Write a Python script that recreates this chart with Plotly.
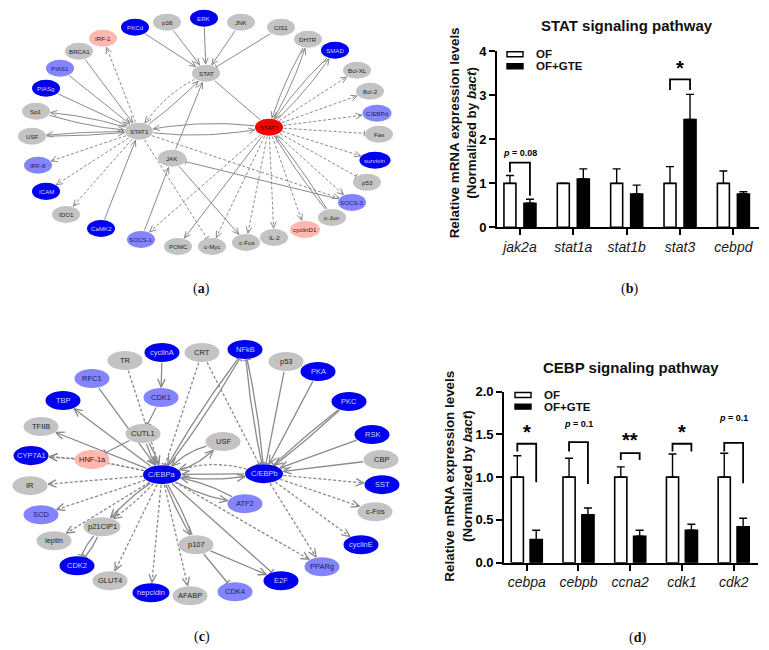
import math
import plotly.graph_objects as go

W, H = 769, 650
FONT = "Liberation Sans, Arial, sans-serif"

# ---------------- (a) STAT network ----------------
a_names = ['PKCd', 'p38', 'ERK', 'JNK', 'CIS1', 'DHTR', 'SMAD', 'Bcl-XL', 'Bcl-2', 'C/EBPd',
           'Fas', 'survivin', 'p53', 'SOCS-3', 'c-Jun', 'cyclinD1', 'IL-2', 'c-Fos', 'c-Myc', 'POMC',
           'SOCS-1', 'CaMK2', 'IDO1', 'ICAM', 'IRF-8', 'USF', 'Sp1', 'PIASg', 'PIAS1', 'BRCA1',
           'IRF-1', 'STAT', 'STAT1', 'STAT3', 'JAK']
a_x = [135, 167, 204, 241, 281, 308, 335, 357, 370, 377,
       379, 375, 367, 352, 332, 305, 274, 246, 212, 178,
       141, 101, 66, 46, 38, 32, 36, 46, 60, 79,
       103, 206, 139, 269, 172]
a_y = [28, 23, 19, 23, 28, 40, 51, 71, 92, 114,
       135, 161, 183, 203, 218, 230, 238, 243, 247, 247,
       240, 229, 215, 192, 166, 137, 112, 89, 69, 52,
       39, 74, 132, 128, 159]
a_kind = ['b', 'g', 'b', 'g', 'g', 'g', 'b', 'g', 'g', 'l',
          'g', 'b', 'g', 'l', 'g', 'p', 'g', 'g', 'g', 'g',
          'l', 'b', 'g', 'b', 'l', 'g', 'g', 'b', 'l', 'g',
          'p', 'g', 'g', 'r', 'g']
# (source, target, s=solid/d=dashed, a=arrow/t=inhibit/n=none, bend)
a_edges = [
    ('PKCd', 'STAT', 's', 'a', 0), ('p38', 'STAT', 's', 'a', 0), ('ERK', 'STAT', 's', 'a', 0),
    ('JNK', 'STAT', 's', 'a', 0), ('CIS1', 'STAT', 's', 't', 0), ('STAT', 'STAT3', 's', 'n', 0),
    ('STAT', 'STAT1', 'd', 'a', 0.12), ('STAT1', 'STAT', 's', 'a', 0.04), ('JAK', 'STAT', 's', 'a', 0),
    ('SOCS-1', 'JAK', 's', 'a', 0), ('JAK', 'c-Fos', 's', 'a', 0), ('SOCS-3', 'JAK', 's', 't', 0),
    ('STAT1', 'c-Myc', 'd', 't', 0), ('STAT1', 'SOCS-3', 'd', 'a', 0),
    ('STAT1', 'STAT3', 's', 'a', 0.07), ('STAT3', 'STAT1', 's', 'a', 0.07),
    ('Sp1', 'STAT1', 's', 'a', 0.05), ('STAT1', 'Sp1', 's', 'a', 0.05),
    ('USF', 'STAT1', 's', 'a', 0.02), ('STAT1', 'USF', 's', 'a', 0.02),
    ('BRCA1', 'STAT1', 's', 'a', 0), ('PIAS1', 'STAT1', 's', 'a', 0), ('PIASg', 'STAT1', 's', 'a', 0),
    ('STAT1', 'IRF-1', 'd', 'a', 0), ('STAT1', 'IRF-8', 'd', 'a', 0), ('STAT1', 'ICAM', 'd', 'a', 0),
    ('STAT1', 'IDO1', 'd', 'a', 0), ('CaMK2', 'STAT1', 's', 'a', 0),
    ('STAT3', 'DHTR', 's', 'a', 0.05), ('DHTR', 'STAT3', 's', 'a', 0.05),
    ('STAT3', 'SMAD', 's', 'a', 0.05), ('SMAD', 'STAT3', 's', 'a', 0.05),
    ('STAT3', 'Bcl-XL', 'd', 'a', 0), ('STAT3', 'Bcl-2', 'd', 'a', 0), ('STAT3', 'C/EBPd', 'd', 'a', 0),
    ('STAT3', 'Fas', 'd', 't', 0), ('STAT3', 'survivin', 'd', 'a', 0), ('STAT3', 'p53', 'd', 't', 0),
    ('STAT3', 'SOCS-3', 'd', 'a', 0), ('c-Jun', 'STAT3', 's', 'a', 0.03), ('STAT3', 'c-Jun', 's', 'n', 0.03),
    ('STAT3', 'cyclinD1', 'd', 'a', 0), ('STAT3', 'IL-2', 'd', 'a', 0), ('STAT3', 'c-Fos', 'd', 'a', 0),
    ('STAT3', 'c-Myc', 'd', 'a', 0), ('STAT3', 'POMC', 's', 'a', 0), ('STAT3', 'SOCS-1', 'd', 'a', 0),
]

# ---------------- (c) CEBP network ----------------
c_names = ['TR', 'cyclinA', 'CRT', 'NFkB', 'p53', 'PKA', 'PKC', 'RSK', 'CBP', 'SST',
           'c-Fos', 'cyclinE', 'PPARg', 'E2F', 'CDK4', 'AFABP', 'hepcidin', 'GLUT4', 'CDK2', 'leptin',
           'SCD', 'IR', 'CYP7A1', 'TFIIB', 'TBP', 'RFC1', 'CDK1', 'CUTL1', 'HNF-1a', 'USF',
           'C/EBPa', 'C/EBPb', 'ATF2', 'p21CIP1', 'p107']
c_x = [125, 162, 202, 245, 286, 318, 349, 372, 381, 382,
       375, 361, 322, 281, 235, 190, 151, 110, 77, 54,
       41, 30, 31, 41, 63, 92, 161, 143, 92, 223,
       162, 264, 245, 102, 196]
c_y = [361, 353, 353, 350, 362, 372, 402, 435, 460, 485,
       512, 545, 567, 581, 592, 596, 593, 581, 566, 541,
       515, 486, 456, 427, 401, 379, 398, 434, 460, 442,
       475, 474, 504, 527, 545]
c_kind = ['g', 'b', 'g', 'b', 'g', 'b', 'b', 'b', 'g', 'b',
          'g', 'b', 'l', 'b', 'l', 'g', 'b', 'g', 'b', 'g',
          'l', 'g', 'b', 'g', 'b', 'l', 'l', 'g', 'p', 'g',
          'b', 'b', 'l', 'g', 'g']
c_edges = [
    ('cyclinA', 'CDK1', 's', 'a', 0), ('CDK1', 'CUTL1', 's', 't', 0), ('TR', 'C/EBPa', 'd', 'a', 0),
    ('RFC1', 'C/EBPa', 's', 'a', 0), ('CUTL1', 'HNF-1a', 's', 't', 0),
    ('CUTL1', 'C/EBPa', 's', 'a', 0.06), ('CUTL1', 'C/EBPa', 's', 'a', -0.06),
    ('C/EBPa', 'TBP', 's', 'a', 0), ('C/EBPa', 'TFIIB', 's', 'a', 0),
    ('C/EBPa', 'CYP7A1', 'd', 'a', 0.04), ('HNF-1a', 'CYP7A1', 'd', 'a', 0), ('C/EBPa', 'HNF-1a', 'd', 'n', 0),
    ('C/EBPa', 'IR', 'd', 'a', 0), ('C/EBPa', 'SCD', 'd', 'a', 0),
    ('C/EBPa', 'p21CIP1', 's', 'a', 0.05), ('C/EBPa', 'p21CIP1', 'd', 'a', -0.05),
    ('C/EBPa', 'leptin', 'd', 'a', 0),
    ('p21CIP1', 'CDK2', 's', 't', 0.08), ('p21CIP1', 'CDK2', 's', 't', -0.08),
    ('C/EBPa', 'GLUT4', 'd', 'a', 0), ('C/EBPa', 'hepcidin', 'd', 'a', 0), ('C/EBPa', 'AFABP', 'd', 'a', 0),
    ('C/EBPa', 'p107', 's', 'a', 0.04), ('C/EBPa', 'p107', 's', 'n', -0.04),
    ('C/EBPa', 'E2F', 's', 't', 0), ('p107', 'CDK4', 's', 't', 0), ('p107', 'E2F', 's', 'a', 0),
    ('C/EBPa', 'PPARg', 'd', 'a', 0),
    ('C/EBPa', 'ATF2', 's', 'a', 0.08), ('ATF2', 'C/EBPa', 's', 'a', 0.08),
    ('C/EBPa', 'USF', 's', 'a', 0.12), ('USF', 'C/EBPa', 's', 'a', 0.12),
    ('C/EBPb', 'C/EBPa', 'd', 'a', 0.14), ('C/EBPb', 'C/EBPa', 's', 'a', 0.0), ('C/EBPa', 'C/EBPb', 's', 'a', 0.07),
    ('C/EBPa', 'NFkB', 's', 't', 0.03), ('NFkB', 'C/EBPa', 's', 'a', 0.03),
    ('C/EBPb', 'NFkB', 's', 't', 0.03), ('NFkB', 'C/EBPb', 's', 't', 0.03),
    ('CRT', 'C/EBPa', 'd', 't', 0), ('CRT', 'C/EBPb', 'd', 't', 0),
    ('p53', 'C/EBPb', 's', 't', 0), ('PKA', 'C/EBPb', 's', 'a', 0),
    ('PKC', 'C/EBPb', 's', 't', 0.02), ('PKC', 'C/EBPb', 's', 'a', -0.02),
    ('RSK', 'C/EBPb', 's', 'a', 0), ('CBP', 'C/EBPb', 's', 'a', 0),
    ('C/EBPb', 'SST', 'd', 'a', 0), ('C/EBPb', 'c-Fos', 'd', 'a', 0),
    ('C/EBPb', 'cyclinE', 'd', 'a', 0), ('C/EBPb', 'PPARg', 'd', 'a', 0),
]

# ---------------- (b) STAT bar data ----------------
b_genes = ['jak2a', 'stat1a', 'stat1b', 'stat3', 'cebpd']
b_of = [1.0, 1.0, 1.0, 1.0, 1.0]
b_of_top = [1.18, 1.005, 1.33, 1.38, 1.28]
b_gte = [0.55, 1.10, 0.76, 2.45, 0.76]
b_gte_top = [0.64, 1.33, 0.96, 3.02, 0.81]
b_brk_idx = [0, 3]
b_brk_top = [1.47, 3.36]
b_brk_left = [1.25, 3.12]
b_brk_right = [0.72, 3.12]
b_brk_text = ['<i>p</i> = 0.08', '*']
b_brk_text_y = [1.70, 3.62]

# ---------------- (d) CEBP bar data ----------------
d_genes = ['cebpa', 'cebpb', 'ccna2', 'cdk1', 'cdk2']
d_of = [1.0, 1.0, 1.0, 1.0, 1.0]
d_of_top = [1.25, 1.22, 1.12, 1.27, 1.28]
d_gte = [0.27, 0.56, 0.31, 0.38, 0.42]
d_gte_top = [0.38, 0.64, 0.38, 0.45, 0.52]
d_brk_idx = [0, 1, 2, 3, 4]
d_brk_top = [1.39, 1.41, 1.28, 1.39, 1.40]
d_brk_left = [1.30, 1.30, 1.20, 1.30, 1.30]
d_brk_right = [0.94, 0.92, 1.20, 1.30, 0.93]
d_brk_text = ['*', '<i>p</i> = 0.1', '**', '*', '<i>p</i> = 0.1']
d_brk_text_y = [1.53, 1.62, 1.43, 1.53, 1.69]

COLORS = {'g': '#C3C3C3', 'b': '#0000F0', 'l': '#8484FF', 'p': '#FFB7AF', 'r': '#F80000'}
TEXTC = {'g': '#1e1e1e', 'b': '#D0D0FF', 'l': '#1a1a6a', 'p': '#4a1010', 'r': '#3a0000'}
EDGE = '#8a8a8a'

# the rendered page shows plot y as 0.976*y + 7.8; positions below are target screen pixels
Y_SCALE, Y_OFF = 0.976, 7.8

fig = go.Figure()
shapes = []
annots = []


def network(names, xs, ys, kinds, edges, rx, ry, wide, hl, lw, fs):
    pos = dict(zip(names, zip(xs, ys)))
    rxs = {n: wide.get(n, rx) for n in names}
    sx, sy, dx, dy = [], [], [], []

    def clip(n, tx, ty):
        cx, cy = pos[n]
        ux, uy = tx - cx, ty - cy
        L = math.hypot(ux, uy) or 1.0
        ux, uy = ux / L, uy / L
        t = 1.0 / math.sqrt((ux / rxs[n]) ** 2 + (uy / ry) ** 2) + 0.8
        return cx + ux * t, cy + uy * t

    for s, d, st, hd, bend in edges:
        x0, y0 = pos[s]
        x1, y1 = pos[d]
        L = math.hypot(x1 - x0, y1 - y0)
        nx, ny = -(y1 - y0) / L, (x1 - x0) / L
        mx = (x0 + x1) / 2 + bend * L * nx
        my = (y0 + y1) / 2 + bend * L * ny
        p0 = clip(s, mx, my)
        p2 = clip(d, mx, my)
        X, Y = (sx, sy) if st == 's' else (dx, dy)
        for k in range(21):
            t = k / 20
            X.append((1 - t) ** 2 * p0[0] + 2 * (1 - t) * t * mx + t * t * p2[0])
            Y.append((1 - t) ** 2 * p0[1] + 2 * (1 - t) * t * my + t * t * p2[1])
        X.append(None)
        Y.append(None)
        ex, ey = p2[0] - mx, p2[1] - my
        E = math.hypot(ex, ey) or 1.0
        ex, ey = ex / E, ey / E
        if hd == 'a':
            for sgn in (1, -1):
                a = math.radians(24) * sgn
                bx = -(ex * math.cos(a) - ey * math.sin(a))
                by = -(ex * math.sin(a) + ey * math.cos(a))
                sx += [p2[0] + hl * bx, p2[0], None]
                sy += [p2[1] + hl * by, p2[1], None]
        elif hd == 't':
            h = hl * 0.42
            sx += [p2[0] - ey * h, p2[0] + ey * h, None]
            sy += [p2[1] + ex * h, p2[1] - ex * h, None]

    fig.add_trace(go.Scatter(x=dx, y=dy, mode='lines', xaxis='x3', yaxis='y3', hoverinfo='skip',
                             line=dict(color=EDGE, width=lw, dash='3px,2px'), showlegend=False))
    fig.add_trace(go.Scatter(x=sx, y=sy, mode='lines', xaxis='x3', yaxis='y3', hoverinfo='skip',
                             line=dict(color=EDGE, width=lw), showlegend=False))
    for n, x, y, k in zip(names, xs, ys, kinds):
        r = rxs[n]
        shapes.append(dict(type='circle', xref='x3', yref='y3', x0=x - r, x1=x + r,
                           y0=y - ry, y1=y + ry, fillcolor=COLORS[k], line=dict(width=0),
                           layer='above'))
        annots.append(dict(x=x, y=y, xref='x3', yref='y3', text=n, showarrow=False,
                           xanchor='center', yanchor='middle',
                           font=dict(family=FONT, size=fs, color=TEXTC[k])))


network(a_names, a_x, a_y, a_kind, a_edges, 14, 8.5,
        {'survivin': 15.5, 'C/EBPd': 14.5, 'cyclinD1': 15}, 7, 1.0, 6.2)
network(c_names, c_x, c_y, c_kind, c_edges, 17.5, 9.5,
        {'C/EBPa': 19, 'C/EBPb': 19, 'p21CIP1': 18.5, 'hepcidin': 18.5}, 9, 1.3, 7.5)


# ---------------- bar charts ----------------
def bars(xa, ya, genes, of, of_top, gte, gte_top, width, off_of, off_gte,
         bidx, btop, bleft, bright, btext, btext_y, small_p):
    idx = list(range(len(genes)))
    fig.add_trace(go.Bar(x=idx, y=of, width=width, offset=off_of, xaxis=xa, yaxis=ya,
                         marker=dict(color='white', line=dict(color='black', width=1.6)),
                         error_y=dict(type='data', symmetric=False,
                                      array=[t - v for t, v in zip(of_top, of)],
                                      arrayminus=[0] * len(of), color='black', thickness=1.4, width=4),
                         showlegend=False, hoverinfo='skip'))
    fig.add_trace(go.Bar(x=idx, y=gte, width=width, offset=off_gte, xaxis=xa, yaxis=ya,
                         marker=dict(color='black', line=dict(color='black', width=1.6)),
                         error_y=dict(type='data', symmetric=False,
                                      array=[t - v for t, v in zip(gte_top, gte)],
                                      arrayminus=[0] * len(gte), color='black', thickness=1.4, width=4),
                         showlegend=False, hoverinfo='skip'))
    c_of = off_of + width / 2
    c_gte = off_gte + width / 2
    bx, by = [], []
    for i, t, l, r in zip(bidx, btop, bleft, bright):
        bx += [i + c_of, i + c_of, i + c_gte, i + c_gte, None]
        by += [l, t, t, r, None]
    fig.add_trace(go.Scatter(x=bx, y=by, mode='lines', xaxis=xa, yaxis=ya, hoverinfo='skip',
                             line=dict(color='black', width=1.8), showlegend=False))
    for i, txt, ty in zip(bidx, btext, btext_y):
        star = txt.startswith('*')
        annots.append(dict(x=i + (c_of + c_gte) / 2, y=ty, xref=xa, yref=ya, text=f'<b>{txt}</b>',
                           showarrow=False, xanchor='center', yanchor='middle',
                           font=dict(family=FONT, size=20 if star else small_p, color='black')))


bars('x', 'y', b_genes, b_of, b_of_top, b_gte, b_gte_top, 0.225, -0.30, 0.075,
     b_brk_idx, b_brk_top, b_brk_left, b_brk_right, b_brk_text, b_brk_text_y, 9)
bars('x2', 'y2', d_genes, d_of, d_of_top, d_gte, d_gte_top, 0.235, -0.30, 0.065,
     d_brk_idx, d_brk_top, d_brk_left, d_brk_right, d_brk_text, d_brk_text_y, 9)


def px(x):
    return x / W


def py(y):
    return 1 - ((y - Y_OFF) / Y_SCALE) / H


axis_common = dict(showline=True, linecolor='black', linewidth=1.8, ticks='outside', ticklen=6,
                   tickwidth=1.6, tickcolor='black', showgrid=False, zeroline=False)

fig.update_layout(
    width=W, height=H, margin=dict(l=0, r=0, t=0, b=0),
    paper_bgcolor='white', plot_bgcolor='rgba(0,0,0,0)', barmode='overlay',
    showlegend=False,
    xaxis=dict(domain=[px(497), px(759)], range=[-0.43, 4.48], anchor='y',
               tickvals=list(range(5)), ticktext=[f'<i>{g}</i>' for g in b_genes],
               tickfont=dict(family=FONT, size=14, color='#1a1a1a'), **axis_common),
    yaxis=dict(domain=[py(228), py(52)], range=[0, 4], anchor='x', dtick=1,
               tickfont=dict(family=FONT, size=13, color='black', weight='bold'), **axis_common),
    xaxis2=dict(domain=[px(504), px(758)], range=[-0.44, 4.47], anchor='y2',
                tickvals=list(range(5)), ticktext=[f'<i>{g}</i>' for g in d_genes],
                tickfont=dict(family=FONT, size=14, color='#1a1a1a'), **axis_common),
    yaxis2=dict(domain=[py(563), py(392)], range=[0, 2], anchor='x2', dtick=0.5, tickformat='.1f',
                tickfont=dict(family=FONT, size=13, color='black', weight='bold'), **axis_common),
    xaxis3=dict(domain=[0, 1], range=[0, W], visible=False, anchor='y3', fixedrange=True),
    yaxis3=dict(domain=[0, 1], range=[Y_OFF + H * Y_SCALE, Y_OFF], visible=False, anchor='x3',
                fixedrange=True),
)

# titles, axis titles, legends, captions
for (tx, ty, txt) in [(627, 26, 'STAT signaling pathway'), (631, 368, 'CEBP signaling pathway')]:
    annots.append(dict(x=px(tx), y=py(ty), xref='paper', yref='paper', text=f'<b>{txt}</b>',
                       xanchor='center', yanchor='middle',
                       showarrow=False, font=dict(family=FONT, size=15, color='#111')))
for (tx, ty) in [(463, 134), (458, 477)]:
    annots.append(dict(x=px(tx), y=py(ty), xref='paper', yref='paper', textangle=-90,
                       xanchor='center', yanchor='middle',
                       text='<b>Relative mRNA expression levels<br>(Normalized by <i>bact</i>)</b>',
                       showarrow=False, font=dict(family=FONT, size=13.4, color='#111')))
for (lx, ly1, ly2) in [(507, 55, 67), (515, 395.5, 407)]:
    shapes.append(dict(type='rect', xref='paper', yref='paper', x0=px(lx), x1=px(lx + 16),
                       y0=py(ly1 - 2.5), y1=py(ly1 + 2.5), fillcolor='white',
                       line=dict(color='black', width=1.4)))
    shapes.append(dict(type='rect', xref='paper', yref='paper', x0=px(lx), x1=px(lx + 16),
                       y0=py(ly2 - 2.5), y1=py(ly2 + 2.5), fillcolor='black',
                       line=dict(color='black', width=1.4)))
    annots.append(dict(x=px(lx + 27), y=py(ly1), xref='paper', yref='paper', text='<b>OF</b>',
                       xanchor='left', yanchor='middle', showarrow=False,
                       font=dict(family=FONT, size=11.5, color='#111')))
    annots.append(dict(x=px(lx + 27), y=py(ly2), xref='paper', yref='paper', text='<b>OF+GTE</b>',
                       xanchor='left', yanchor='middle', showarrow=False,
                       font=dict(family=FONT, size=11.5, color='#111')))
for (tx, ty, lab) in [(202, 290, 'a'), (629, 290, 'b'), (202, 637, 'c'), (637, 638, 'd')]:
    annots.append(dict(x=px(tx), y=py(ty), xref='paper', yref='paper', text=f'(<b>{lab}</b>)',
                       xanchor='center', yanchor='middle', showarrow=False,
                       font=dict(family='Liberation Serif, Times New Roman, serif',
                                 size=14, color='#111')))

fig.update_layout(shapes=shapes, annotations=annots)
fig.write_html(
    "out.html",
    config={'displayModeBar': False},
    post_script=(
        "document.documentElement.style.margin='0';document.documentElement.style.padding='0';"
        "document.body.style.margin='0';document.body.style.padding='0';"
        "document.body.style.overflow='hidden';"
        "var d=document.getElementById('{plot_id}');d.style.position='fixed';"
        "d.style.top='0px';d.style.left='0px';"
    ),
)
